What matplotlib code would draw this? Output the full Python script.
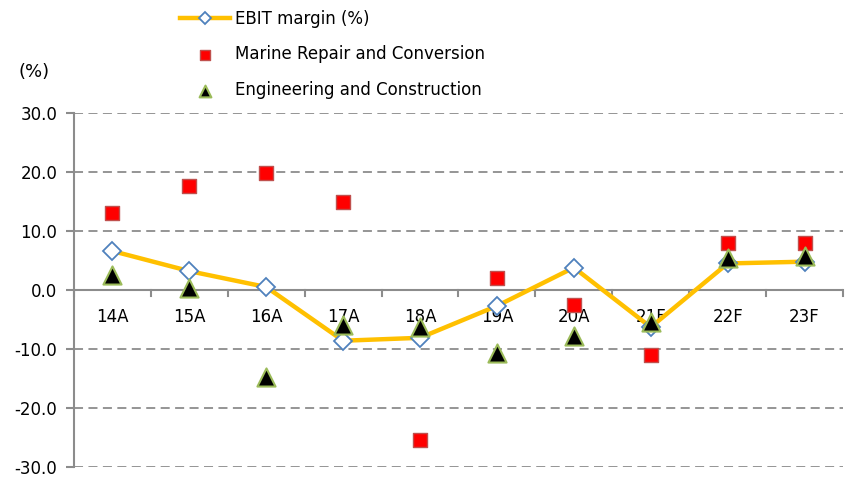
import matplotlib.pyplot as plt
import numpy as np

years = ['14A', '15A', '16A', '17A', '18A', '19A', '20A', '21F', '22F', '23F']
ebit_margin = [6.6, 3.2, 0.5, -8.6, -8.1, -2.7, 3.8, -6.3, 4.5, 4.8]
marine = [13.0, 17.7, 19.9, 14.9, -25.4, 2.0, -2.6, -11.0, 8.0, 8.0]
engineering = [2.5, 0.3, -14.7, -5.9, -6.2, -10.7, -7.8, -5.4, 5.4, 5.8]

plt.rcParams['font.family'] = ['DejaVu Sans']

fig = plt.figure(figsize=(8.51, 4.82), dpi=100)
ax = fig.add_axes([74 / 851, 1 - 467 / 482, (843 - 74) / 851, (467 - 113) / 482])

x = np.arange(len(years))
grey = '#8c8c8c'

# linia marży EBIT
ax.plot(x, ebit_margin, color='#FFC000', lw=3.2, marker='D', ms=9,
        mfc='white', mec='#4F81BD', mew=1.3, label='EBIT margin (%)', zorder=3)
ax.scatter(x, marine, marker='s', s=110, color='#FF0000', edgecolors='#C0504D',
           linewidths=1, label='Marine Repair and Conversion', zorder=4)
ax.scatter(x, engineering, marker='^', s=170, color='black', edgecolors='#9BBB59',
           linewidths=1.5, label='Engineering and Construction', zorder=5)

ax.set_xlim(-0.5, len(years) - 0.5)
ax.set_ylim(-30, 30)
ax.set_yticks(np.arange(-30, 31, 10))
ax.set_yticklabels([f'{v:.1f}' for v in np.arange(-30, 31, 10)], fontsize=12)
ax.yaxis.grid(True, linestyle=(0, (5, 3)), color=grey, lw=1.3)
ax.set_axisbelow(True)

for s in ['top', 'right', 'bottom']:
    ax.spines[s].set_visible(False)
ax.spines['left'].set_color(grey)
ax.spines['left'].set_linewidth(1.5)
ax.tick_params(axis='y', length=6, color=grey, width=1.5, pad=6)

# oś X na wysokości zera
ax.axhline(0, color=grey, lw=1.5, zorder=2)
ax.set_xticks([])
for b in np.arange(-0.5, len(years), 1.0):
    ax.plot([b, b], [0, -1.0], color=grey, lw=1.5, zorder=2, clip_on=False)
for i, lab in enumerate(years):
    ax.text(i, -3.1, lab, ha='center', va='top', fontsize=12, zorder=1)

fig.text(18 / 851, 1 - 72 / 482, '(%)', fontsize=13, va='center', ha='left')

fig.legend(loc='upper left', bbox_to_anchor=(165 / 851, 1 + 5 / 482), frameon=False,
           fontsize=12, labelspacing=1.05, handlelength=3.0, handletextpad=0.3,
           markerscale=0.65)

fig.savefig('out.png', dpi=100)
